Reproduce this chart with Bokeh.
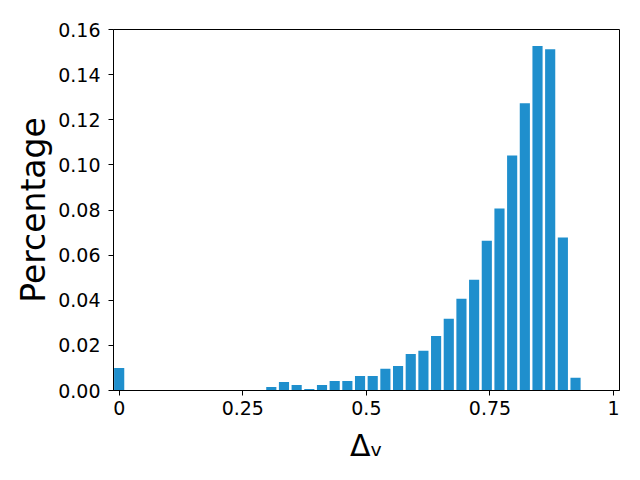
from bokeh.plotting import figure
from bokeh.models import Range1d, FixedTicker, ColumnDataSource
from bokeh.embed import file_html
from bokeh.resources import INLINE

# ---- data ----
n_bins = 39
bin_index = list(range(40))
percentages = [
    0.0100, 0, 0, 0, 0, 0, 0, 0, 0, 0,
    0, 0, 0.0016, 0.0038, 0.0024, 0.0007, 0.0024, 0.0042, 0.0042, 0.0064,
    0.0064, 0.0096, 0.0109, 0.0162, 0.0176, 0.0242, 0.0318, 0.0407, 0.0491, 0.0664,
    0.0807, 0.1042, 0.1273, 0.1527, 0.1513, 0.0678, 0.0056, 0, 0, 0,
]
x_ticks = [0, 0.25, 0.5, 0.75, 1]
x_tick_labels = ["0", "0.25", "0.5", "0.75", "1"]
y_ticks = [0.0, 0.02, 0.04, 0.06, 0.08, 0.10, 0.12, 0.14, 0.16]
y_tick_labels = ["0.00", "0.02", "0.04", "0.06", "0.08", "0.10", "0.12", "0.14", "0.16"]
x_label = "Δᵥ"
y_label = "Percentage"

centers = [k / n_bins for k in bin_index]
xs = [c for c, v in zip(centers, percentages) if v > 0]
hs = [v for v in percentages if v > 0]
src = ColumnDataSource(dict(x=xs, top=hs))

FONT = "DejaVu Sans"
BAR = "#1f8fcd"

p = figure(width=640, height=480, output_backend="svg", toolbar_location=None,
           x_range=Range1d(-0.0115, 1.012), y_range=Range1d(0, 0.16),
           min_border_left=113, min_border_right=21, min_border_top=29, min_border_bottom=90)
p.background_fill_color = "white"
p.border_fill_color = "white"
p.outline_line_color = "black"
p.outline_line_width = 1
p.outline_line_alpha = 1
p.xgrid.visible = False
p.ygrid.visible = False

p.vbar(x="x", top="top", bottom=0, width=0.8 / n_bins, source=src,
       fill_color=BAR, line_color=None)

for ax in (p.xaxis[0], p.yaxis[0]):
    ax.axis_line_color = "black"
    ax.major_tick_line_color = "black"
    ax.major_tick_in = 0
    ax.major_tick_out = 5
    ax.minor_tick_line_color = None
    ax.major_label_text_font = FONT
    ax.major_label_text_font_size = "19px"
    ax.major_label_text_color = "black"
    ax.axis_label_text_font = FONT
    ax.axis_label_text_font_style = "normal"
    ax.axis_label_text_color = "black"

p.xaxis[0].ticker = FixedTicker(ticks=x_ticks)
p.xaxis[0].major_label_overrides = {t: l for t, l in zip(x_ticks, x_tick_labels)}
p.xaxis[0].major_label_standoff = 5
p.xaxis[0].axis_label = x_label
p.xaxis[0].axis_label_text_font_size = "30px"
p.xaxis[0].axis_label_standoff = 10

p.yaxis[0].ticker = FixedTicker(ticks=y_ticks)
p.yaxis[0].major_label_overrides = {t: l for t, l in zip(y_ticks, y_tick_labels)}
p.yaxis[0].major_label_standoff = 8
p.yaxis[0].axis_label = y_label
p.yaxis[0].axis_label_text_font_size = "33px"
p.yaxis[0].axis_label_standoff = 2

open("out.html", "w").write(file_html(p, INLINE))
